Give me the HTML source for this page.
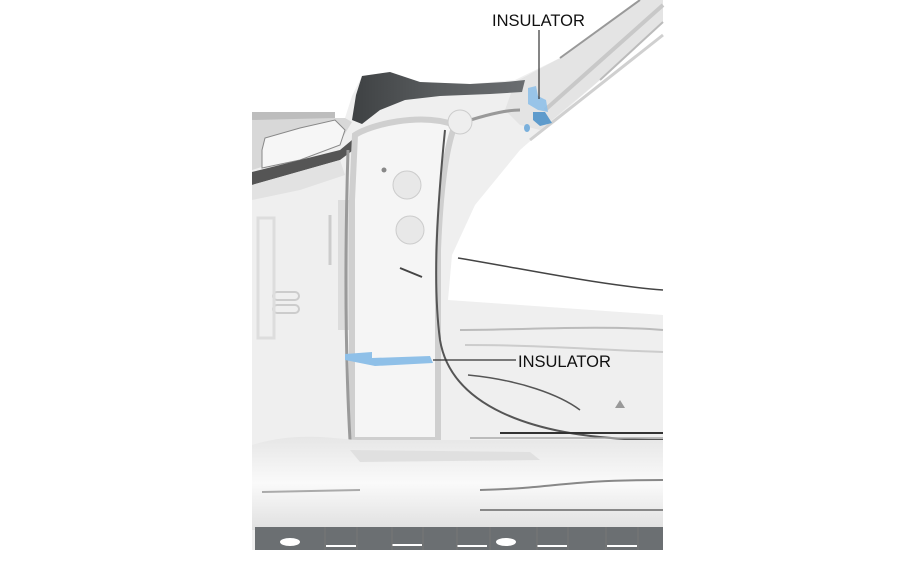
<!DOCTYPE html>
<html><head><meta charset="utf-8"><style>
html,body{margin:0;padding:0;background:#fff;width:908px;height:569px;overflow:hidden}
svg{display:block}
text{font-family:"Liberation Sans",Arial,sans-serif;font-size:16.5px;fill:#111}
</style></head><body>
<svg width="908" height="569" viewBox="0 0 908 569" xmlns="http://www.w3.org/2000/svg">
<defs>
<linearGradient id="sill" x1="0" y1="0" x2="0" y2="1">
<stop offset="0" stop-color="#e6e6e6"/><stop offset="0.5" stop-color="#fafafa"/><stop offset="1" stop-color="#e0e0e0"/>
</linearGradient>
<linearGradient id="dark" x1="0" y1="0" x2="1" y2="0">
<stop offset="0" stop-color="#3e4143"/><stop offset="0.5" stop-color="#5a5d5f"/><stop offset="1" stop-color="#6a6d70"/>
</linearGradient>
</defs>
<path d="M252,118 L345,118 L352,96 L362,76 L390,72 L420,82 L470,84 L515,80 L560,58 L640,0 L663,0 L663,22 L600,80 L520,150 L475,205 L452,255 L448,300 L663,315 L663,550 L252,550 Z" fill="#efefef"/>
<path d="M663,22 L600,80 L530,145 L480,205 L458,255 L500,275 L600,300 L663,312 Z" fill="#fff"/>
<path d="M515,82 L560,58 L640,0 L663,0 L663,22 L600,80 L540,130 L520,125 L505,110 Z" fill="#e4e4e4"/>
<path d="M560,58 L640,0" stroke="#999" stroke-width="2" fill="none"/>
<path d="M600,80 L663,22" stroke="#bbb" stroke-width="2" fill="none"/>
<path d="M545,110 L663,5" stroke="#c8c8c8" stroke-width="4" fill="none"/>
<path d="M530,140 L663,35" stroke="#d0d0d0" stroke-width="3" fill="none"/>
<path d="M352,120 L356,95 L362,76 L390,72 L420,82 L470,84 L505,82 L525,80 L522,92 L490,94 L440,96 L405,100 L380,110 L362,124 Z" fill="url(#dark)"/>
<path d="M252,118 L345,118 L352,122 L340,142 L300,155 L252,170 Z" fill="#d8d8d8"/>
<path d="M252,112 L335,112 L335,118 L252,120 Z" fill="#bdbdbd"/>
<path d="M262,150 L265,138 L300,128 L335,120 L345,130 L340,145 L300,160 L262,168 Z" fill="#f6f6f6" stroke="#888" stroke-width="1"/>
<path d="M252,172 L340,150 L358,135 L356,148 L340,160 L252,185 Z" fill="#555"/>
<path d="M252,185 L340,160 L345,175 L300,190 L252,200 Z" fill="#e2e2e2"/>
<rect x="338" y="200" width="16" height="130" fill="#dcdcdc"/>
<path d="M355,135 C370,125 420,112 455,125 C445,150 440,200 438,250 L438,440 L352,440 L352,200 Z" fill="#f5f5f5" stroke="#cfcfcf" stroke-width="6"/>
<path d="M348,150 C345,250 345,350 350,440" stroke="#9a9a9a" stroke-width="3" fill="none"/>
<path d="M445,130 C438,200 432,280 440,340 C450,400 520,440 663,440" stroke="#555" stroke-width="2" fill="none"/>
<path d="M455,125 C470,120 500,110 520,110" stroke="#999" stroke-width="3" fill="none"/>
<ellipse cx="407" cy="185" rx="14" ry="14" fill="#e8e8e8" stroke="#ccc"/>
<ellipse cx="410" cy="230" rx="14" ry="14" fill="#e8e8e8" stroke="#ccc"/>
<ellipse cx="460" cy="122" rx="12" ry="12" fill="#eee" stroke="#ccc"/>
<circle cx="384" cy="170" r="2.5" fill="#888"/>
<path d="M400,268 L422,277" stroke="#444" stroke-width="2"/>
<path d="M458,258 C530,270 600,285 663,290" stroke="#444" stroke-width="1.5" fill="none"/>
<path d="M460,330 C520,330 600,325 663,330" stroke="#bbb" stroke-width="2" fill="none"/>
<path d="M465,345 C540,345 600,350 663,352" stroke="#ccc" stroke-width="2" fill="none"/>
<path d="M468,375 C520,380 560,395 580,410" stroke="#555" stroke-width="1.5" fill="none"/>
<path d="M615,408 L625,408 L620,400 Z" fill="#999"/>
<path d="M500,433 L663,433" stroke="#333" stroke-width="2"/>
<path d="M470,438 L663,438" stroke="#aaa" stroke-width="1.5"/>
<rect x="273" y="292" width="26" height="8" rx="4" fill="none" stroke="#ccc" stroke-width="2"/>
<rect x="273" y="305" width="26" height="8" rx="4" fill="none" stroke="#ccc" stroke-width="2"/>
<rect x="258" y="218" width="16" height="120" fill="none" stroke="#ddd" stroke-width="3"/>
<path d="M330,215 L330,265" stroke="#ccc" stroke-width="3"/>
<path d="M252,445 C300,430 340,440 360,440 L663,440 L663,530 L252,530 Z" fill="url(#sill)"/>
<path d="M262,492 L360,490" stroke="#aaa" stroke-width="2"/>
<path d="M480,490 C560,488 560,480 663,480" stroke="#888" stroke-width="2" fill="none"/>
<path d="M480,510 L663,510" stroke="#888" stroke-width="2" fill="none"/>
<path d="M350,450 L530,452 L540,460 L360,462 Z" fill="#e0e0e0"/>
<rect x="255" y="527" width="408" height="23" fill="#6b6f72"/>
<g fill="#fff">
<ellipse cx="290" cy="542" rx="10" ry="4"/>
<ellipse cx="506" cy="542" rx="10" ry="4"/>
<rect x="326" y="545" width="30" height="2"/>
<rect x="392" y="544" width="30" height="2"/>
<rect x="457" y="545" width="30" height="2"/>
<rect x="537" y="545" width="30" height="2"/>
<rect x="607" y="545" width="30" height="2"/>
</g>
<g stroke="#777" stroke-width="1">
<path d="M325,527V550M357,527V550M392,527V550M423,527V550M457,527V550M490,527V550M537,527V550M568,527V550M606,527V550M638,527V550"/>
</g>
<path d="M528,88 L536,86 L538,96 L546,100 L548,112 L538,110 L528,104 Z" fill="#8fc0e8" opacity="0.9"/>
<path d="M533,112 L545,112 L552,123 L540,126 L533,120 Z" fill="#5e9bcc"/>
<ellipse cx="527" cy="128" rx="3" ry="4" fill="#7ab0dc"/>
<path d="M345,354 L372,352 L372,358 L430,356 L433,363 L375,366 L345,360 Z" fill="#8fc0e8"/>
<path d="M539,30 L539,99" stroke="#333" stroke-width="1.2"/>
<path d="M433,360 L516,360" stroke="#333" stroke-width="1.2"/>
<rect x="490" y="10" width="100" height="20" fill="#fff"/>
<text x="492" y="26">INSULATOR</text>
<text x="518" y="367">INSULATOR</text>
</svg>
</body></html>
